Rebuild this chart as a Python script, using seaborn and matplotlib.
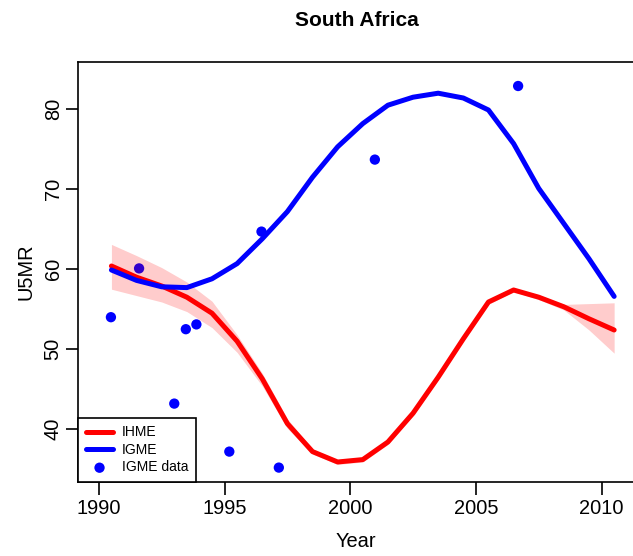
import matplotlib
matplotlib.use("Agg")
import matplotlib.pyplot as plt
import seaborn as sns
import pandas as pd

# Estimated values
years = [1990.5, 1991.5, 1992.5, 1993.5, 1994.5, 1995.5, 1996.5, 1997.5, 1998.5, 1999.5,
         2000.5, 2001.5, 2002.5, 2003.5, 2004.5, 2005.5, 2006.5, 2007.5, 2008.5, 2009.5, 2010.5]
ihme = [60.4, 59.0, 57.9, 56.5, 54.5, 51.0, 46.3, 40.7, 37.2, 35.9,
        36.2, 38.4, 42.0, 46.5, 51.3, 55.9, 57.4, 56.5, 55.3, 53.8, 52.4]
ihme_upper = [63.1, 61.7, 60.2, 58.4, 56.0, 51.8, 47.0, 41.3, 37.5, 36.2,
              36.5, 38.7, 42.3, 46.8, 51.6, 56.2, 57.6, 56.8, 55.6, 55.7, 55.8]
ihme_lower = [57.5, 56.7, 55.9, 54.7, 52.7, 49.6, 45.4, 40.1, 36.9, 35.6,
              35.9, 38.1, 41.7, 46.2, 51.0, 55.6, 57.2, 56.2, 54.9, 52.4, 49.5]
igme = [59.9, 58.6, 57.8, 57.7, 58.8, 60.7, 63.8, 67.2, 71.5, 75.3,
        78.2, 80.5, 81.5, 82.0, 81.4, 79.9, 75.7, 70.1, 65.7, 61.3, 56.6]
data_years = [1990.48, 1991.6, 1993.0, 1993.46, 1993.88, 1995.19, 1996.47, 1997.16, 2000.98, 2006.68]
data_vals = [54.0, 60.1, 43.2, 52.5, 53.1, 37.2, 64.7, 35.2, 73.7, 82.9]

est = pd.DataFrame({"Year": years, "IHME": ihme, "IGME": igme,
                    "lo": ihme_lower, "hi": ihme_upper})
pts = pd.DataFrame({"Year": data_years, "U5MR": data_vals})

sns.set_style("white")
plt.rcParams["font.family"] = ["Liberation Sans", "DejaVu Sans"]
plt.rcParams.update({"text.color": "black", "axes.labelcolor": "black",
                     "xtick.color": "black", "ytick.color": "black"})

fig = plt.figure(figsize=(6.33, 5.56), dpi=100)
ax = fig.add_axes([78 / 633, 1 - 482 / 556, 556 / 633, 420 / 556])

sns.scatterplot(data=pts, x="Year", y="U5MR", color="#0000FF", s=55,
                edgecolor="none", label="IGME data", ax=ax, zorder=2)
ax.fill_between(est["Year"], est["lo"], est["hi"], color="#FF0000",
                alpha=0.2, linewidth=0, zorder=3)
sns.lineplot(data=est, x="Year", y="IHME", color="#FF0000", lw=3.6,
             label="IHME", ax=ax, zorder=4)
sns.lineplot(data=est, x="Year", y="IGME", color="#0000FF", lw=3.6,
             label="IGME", ax=ax, zorder=5)

ax.set_xlim(1989.17, 2011.29)
ax.set_ylim(33.4, 85.9)
ax.set_xticks([1990, 1995, 2000, 2005, 2010])
ax.set_yticks([40, 50, 60, 70, 80])
ax.tick_params(axis="both", direction="out", length=9, width=1.2,
               color="black", labelsize=14.4, left=True, bottom=True)
ax.tick_params(axis="x", pad=3)
ax.tick_params(axis="y", pad=2)
for lab in ax.get_yticklabels():
    lab.set_rotation(90)
    lab.set_va("center")
for sp in ax.spines.values():
    sp.set_visible(True)
    sp.set_color("black")
    sp.set_linewidth(1.2)

ax.set_xlabel("Year", fontsize=14.4, labelpad=10)
ax.set_ylabel("U5MR", fontsize=14.4, labelpad=6)
fig.text(356.5 / 633, 1 - 21 / 556, "South Africa", ha="center", va="center",
         fontsize=15, fontweight="bold")

handles, labels = ax.get_legend_handles_labels()
order = [labels.index(k) for k in ["IHME", "IGME", "IGME data"]]
leg = ax.legend([handles[i] for i in order], [labels[i] for i in order],
                loc="lower left", bbox_to_anchor=(0, 0), borderaxespad=0,
                fontsize=10, frameon=True, fancybox=False, edgecolor="black",
                framealpha=1, borderpad=0.55, handlelength=2.0,
                handletextpad=0.6, labelspacing=0.25)
leg.get_frame().set_linewidth(1.2)
leg.set_zorder(10)

fig.savefig("out.png", dpi=100)
